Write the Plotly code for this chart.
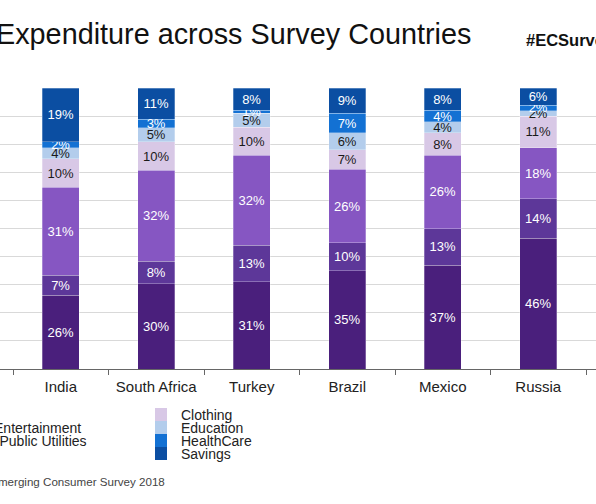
import plotly.graph_objects as go

countries = ["India", "South Africa", "Turkey", "Brazil", "Mexico", "Russia"]
series_names = ["Food", "Leisure & Entertainment", "Housing & Public Utilities",
                "Clothing", "Education", "HealthCare", "Savings"]
food = [26, 30, 31, 35, 37, 46]
entertainment = [7, 8, 13, 10, 13, 14]
housing = [31, 32, 32, 26, 26, 18]
clothing = [10, 10, 10, 7, 8, 11]
education = [4, 5, 5, 6, 4, 2]
healthcare = [2, 3, 1, 7, 4, 2]
savings = [19, 11, 8, 9, 8, 6]
series_values = [food, entertainment, housing, clothing, education, healthcare, savings]
colors = ["#4a1f7c", "#5d3799", "#8656c2", "#d8c8e6", "#b3cdec", "#1371d3", "#0b4ea2"]
text_colors = ["white", "white", "white", "#1a1a1a", "#1a1a1a", "white", "white"]

W, H = 596, 504
PLOT_TOP, PLOT_BOTTOM = 88, 369  # plot area in window pixels
FONT = "Liberation Sans, Arial, sans-serif"


def px_x(p):
    return p / W


def px_y(p):
    return (PLOT_BOTTOM - p) / (PLOT_BOTTOM - PLOT_TOP)


fig = go.Figure()
for name, vals, col, tcol in zip(series_names, series_values, colors, text_colors):
    fig.add_trace(go.Bar(
        x=countries, y=vals, name=name,
        marker=dict(color=col, line=dict(color="rgba(255,255,255,0.35)", width=0.8)),
        text=[f"{v}%" for v in vals],
        textposition="inside", insidetextanchor="middle", textangle=0,
        textfont=dict(family=FONT, size=13, color=tcol),
        showlegend=False,
    ))

# category width ~95.5 px, first boundary at x=13 px
cat_w = 95.5
first_b = 13
x0 = -0.5 - first_b / cat_w
x1 = -0.5 + (W - first_b) / cat_w

fig.update_layout(
    width=W, height=H,
    margin=dict(l=0, r=0, t=PLOT_TOP, b=H - PLOT_BOTTOM, pad=0),
    paper_bgcolor="white", plot_bgcolor="white",
    barmode="stack", barnorm="percent", bargap=0.613,
    uniformtext=dict(minsize=13, mode="show"),
    showlegend=False,
    xaxis=dict(range=[x0, x1], tickson="boundaries", ticks="outside", ticklen=5,
               tickcolor="#666", showline=True, linecolor="#666", linewidth=1,
               ticklabelstandoff=4,
               showgrid=False, tickfont=dict(family=FONT, size=15, color="#222")),
    yaxis=dict(range=[0, 100], dtick=10, showgrid=True, gridcolor="#d9d9d9",
               gridwidth=1, showticklabels=False, zeroline=False, fixedrange=True),
)

annotations = []
shapes = []
# Title
annotations.append(dict(text="Expenditure across Survey Countries", xref="paper", yref="paper",
                        x=px_x(-6), y=px_y(34), xanchor="left", yanchor="middle",
                        showarrow=False, font=dict(family=FONT, size=28.8, color="#111")))
annotations.append(dict(text="<b>#ECSurvey2018</b>", xref="paper", yref="paper",
                        x=px_x(524), y=px_y(40), xanchor="left", yanchor="middle",
                        showarrow=False, font=dict(family=FONT, size=16.5, color="#111")))
# Source
annotations.append(dict(text="Source: Emerging Consumer Survey 2018", xref="paper", yref="paper",
                        x=px_x(-55), y=px_y(481), xanchor="left", yanchor="middle",
                        showarrow=False, font=dict(family=FONT, size=11.6, color="#444")))

# Manual two-column legend
col_left = [-95, 155]
row_top = 408
row_h = 13
sw_w = 12
for i, (name, col) in enumerate(zip(series_names, colors)):
    c = 0 if i < 3 else 1
    r = i if i < 3 else i - 3
    top = row_top + r * row_h
    shapes.append(dict(type="rect", xref="paper", yref="paper",
                       x0=px_x(col_left[c]), x1=px_x(col_left[c] + sw_w),
                       y0=px_y(top + row_h), y1=px_y(top),
                       fillcolor=col, line=dict(width=0)))
    annotations.append(dict(text=name, xref="paper", yref="paper",
                            x=px_x(col_left[c] + 24), y=px_y(top + row_h / 2),
                            xanchor="left", yanchor="middle", showarrow=False,
                            font=dict(family=FONT, size=14, color="#222")))

fig.update_layout(annotations=annotations, shapes=shapes)
fig.write_html("out.html", config={"displayModeBar": False},
               post_script="document.body.style.margin='0';")
